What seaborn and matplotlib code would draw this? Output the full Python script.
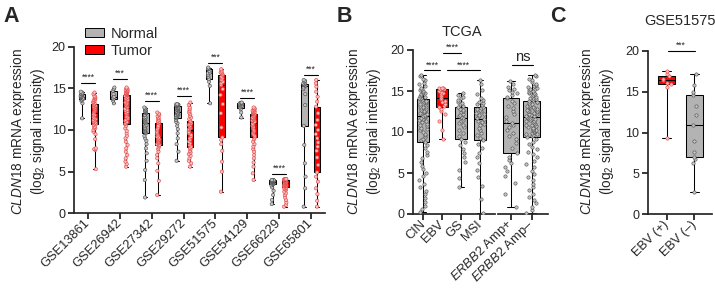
import numpy as np
import pandas as pd
import matplotlib
matplotlib.use('Agg')
import matplotlib.pyplot as plt
import seaborn as sns
from matplotlib.patches import Patch

# ---------------- data ----------------
datasets = ['GSE13861', 'GSE26942', 'GSE27342', 'GSE29272',
            'GSE51575', 'GSE54129', 'GSE66229', 'GSE65801']

gse13861_normal = [11.4, 13.2, 13.5, 13.6, 13.7, 13.8, 13.9, 13.95, 14.0, 14.05, 14.1, 14.2, 14.3, 14.35, 14.4, 14.5, 14.6]
gse13861_tumor = [5.3, 7.6, 7.7, 7.8, 8.9, 9.5, 9.8, 10.0, 10.2, 10.3, 10.4, 10.6, 10.7,
                  10.8, 10.9, 11.0, 11.1, 11.2, 11.3, 11.4, 11.5, 11.7, 11.8, 11.9, 12.1,
                  12.2, 12.3, 12.4, 12.5, 12.6, 12.7, 12.75, 12.8, 12.9, 12.95, 13.0, 13.1,
                  13.2, 13.3, 13.4, 13.5, 13.6, 13.7, 13.8, 13.9, 14.0, 14.1, 14.3, 14.5]
gse26942_normal = [13.2, 13.5, 13.7, 13.9, 14.0, 14.3, 14.7, 14.9, 15.1]
gse26942_tumor = [5.6, 5.9, 6.2, 6.6, 7.0, 7.4, 7.8, 8.2, 8.6, 9.0, 9.3, 9.6, 9.9, 10.2, 10.5, 10.7,
                  10.8, 10.95, 11.1, 11.2, 11.35, 11.5, 11.6, 11.75, 11.9, 12.0, 12.15, 12.3, 12.4, 12.55, 12.7,
                  12.8, 12.9, 13.0, 13.1, 13.2, 13.3, 13.4, 13.5, 13.6, 13.7, 13.8, 13.9, 14.0, 14.1, 14.2,
                  14.25, 14.3, 14.35, 14.4, 14.45, 14.5, 14.55, 14.6, 14.65, 14.7, 14.8, 14.85, 14.9, 15.0, 15.1]
gse27342_normal = [1.9, 4.0, 5.2, 6.3, 7.2, 7.8, 8.3, 8.7, 9.0, 9.3, 9.6,
                   9.7, 9.8, 9.9, 10.0, 10.1, 10.2, 10.3, 10.5, 10.6, 10.8,
                   10.9, 11.0, 11.1, 11.2, 11.3, 11.4, 11.5, 11.6, 11.8, 12.0,
                   12.05, 12.1, 12.15, 12.2, 12.25, 12.3, 12.4, 12.5, 12.6, 12.7]
gse27342_tumor = [2.2, 3.9, 5.1, 6.0, 6.6, 7.0, 7.4, 7.7, 7.9, 8.1, 8.2,
                  8.3, 8.4, 8.5, 8.6, 8.7, 8.8, 8.85, 8.9, 9.0, 9.1,
                  9.2, 9.35, 9.5, 9.65, 9.8, 9.95, 10.1, 10.3, 10.5, 10.8,
                  10.9, 11.0, 11.1, 11.25, 11.4, 11.5, 11.65, 11.8, 11.95, 12.1]
gse29272_normal = [6.3, 7.4, 8.3, 9.0, 9.6, 10.1, 10.5, 10.8, 11.0, 11.2, 11.4,
                   11.5, 11.55, 11.6, 11.7, 11.8, 11.85, 11.9, 12.0, 12.1, 12.2,
                   12.25, 12.3, 12.4, 12.45, 12.5, 12.6, 12.65, 12.7, 12.8, 12.9,
                   12.92, 12.94, 12.96, 12.98, 13.0, 13.02, 13.04, 13.06, 13.08, 13.1]
gse29272_tumor = [5.6, 6.0, 6.3, 6.6, 6.9, 7.1, 7.3, 7.5, 7.7, 7.85, 8.0,
                  8.2, 8.4, 8.6, 8.8, 9.0, 9.2, 9.4, 9.6, 9.8, 10.0,
                  10.1, 10.2, 10.3, 10.4, 10.5, 10.6, 10.7, 10.8, 10.95, 11.1,
                  11.3, 11.5, 11.7, 11.9, 12.1, 12.3, 12.5, 12.7, 13.0, 13.3]
gse51575_normal = [13.2, 15.3, 15.8, 16.1, 16.4, 16.6, 16.8, 16.9, 17.1, 17.3, 17.35, 17.4, 17.5]
gse51575_tumor = [2.6, 5.0, 6.2, 7.5, 8.3, 8.8, 9.1, 10.3, 12.0, 13.1, 14.2, 14.9, 15.4,
                  15.6, 15.8, 16.0, 16.2, 16.4, 16.6, 16.7, 16.8, 16.9, 17.0, 17.15, 17.3]
gse54129_normal = [11.5, 12.1, 12.5, 12.7, 12.8, 12.9, 12.95, 13.0, 13.1, 13.2, 13.22, 13.26, 13.3]
gse54129_tumor = [4.0, 4.8, 5.6, 6.1, 6.6, 7.0, 7.4, 7.7, 8.0, 8.3, 8.6, 8.9, 9.1,
                  9.3, 9.45, 9.6, 9.75, 9.9, 10.05, 10.2, 10.35, 10.5, 10.6, 10.75, 10.9,
                  11.0, 11.1, 11.15, 11.2, 11.3, 11.4, 11.45, 11.5, 11.6, 11.7, 11.8, 11.9,
                  11.95, 12.0, 12.05, 12.1, 12.15, 12.2, 12.3, 12.35, 12.4, 12.5, 12.6, 12.7]
gse66229_normal = [1.1, 1.6, 2.2, 2.7, 3.1, 3.35, 3.5, 3.55, 3.6, 3.65, 3.7, 3.72, 3.75,
                   3.78, 3.8, 3.83, 3.86, 3.9, 3.95, 3.955, 3.96, 3.97, 3.98, 3.99, 4.0]
gse66229_tumor = [0.8, 1.0, 1.3, 1.6, 1.9, 2.2, 2.4, 2.6, 2.8, 2.9, 3.0, 3.1, 3.2,
                  3.23, 3.26, 3.3, 3.33, 3.36, 3.4, 3.43, 3.46, 3.5, 3.53, 3.56, 3.6,
                  3.63, 3.66, 3.7, 3.73, 3.76, 3.8, 3.83, 3.86, 3.9, 3.93, 3.96, 4.0,
                  4.01, 4.02, 4.03, 4.04, 4.05, 4.06, 4.07, 4.08, 4.09, 4.1, 4.1, 4.1]
gse65801_normal = [0.8, 3.0, 4.4, 6.0, 8.2, 10.5, 13.0, 14.3, 14.9, 15.1, 15.3,
                   15.35, 15.4, 15.45, 15.5, 15.5, 15.6, 15.7, 15.8, 15.9, 16.0]
gse65801_tumor = [0.8, 1.5, 2.3, 3.0, 3.8, 4.4, 4.9, 5.8, 6.7, 7.5, 8.0, 8.5, 9.0,
                  9.5, 10.0, 10.6, 11.2, 12.0, 12.8, 13.4, 14.0, 14.6, 15.2, 15.6, 16.0]

normal_vals = [gse13861_normal, gse26942_normal, gse27342_normal, gse29272_normal,
               gse51575_normal, gse54129_normal, gse66229_normal, gse65801_normal]
tumor_vals = [gse13861_tumor, gse26942_tumor, gse27342_tumor, gse29272_tumor,
              gse51575_tumor, gse54129_tumor, gse66229_tumor, gse65801_tumor]
sig_a_y = [15.6, 16.1, 13.5, 14.1, 18.1, 13.9, 4.7, 16.6]
sig_a_txt = ['****', '***', '****', '****', '***', '****', '****', '***']

# TCGA
tcga_subtypes = ['CIN', 'EBV', 'GS', 'MSI']
cin = [0.2, 0.6, 1.0, 1.5, 1.9, 2.4, 2.8, 3.3, 3.7, 4.2, 4.6, 5.0, 5.5, 5.9, 6.3, 6.8, 7.2, 7.6, 8.0, 8.4, 8.8,
       9.0, 9.2, 9.4, 9.6, 9.8, 10.0, 10.2, 10.4, 10.5, 10.7, 10.9, 11.0, 11.2, 11.3, 11.5, 11.6, 11.7, 11.8, 11.9, 12.0,
       12.1, 12.2, 12.3, 12.4, 12.5, 12.6, 12.7, 12.8, 12.9, 13.0, 13.1, 13.2, 13.3, 13.4, 13.5, 13.6, 13.7, 13.8, 13.9, 14.0,
       14.1, 14.2, 14.3, 14.4, 14.5, 14.6, 14.7, 14.8, 14.9, 15.0, 15.1, 15.2, 15.4, 15.6, 15.8, 16.0, 16.3, 16.5, 16.8, 17.0]
ebv = [9.1, 10.2, 11.4, 12.2, 12.6, 12.8, 13.0, 13.2, 13.4, 13.6, 13.8, 14.0, 14.2,
       14.4, 14.6, 14.8, 14.9, 15.0, 15.2, 15.22, 15.25, 15.28, 15.32, 15.36, 15.4]
gs = [3.3, 4.4, 5.4, 6.3, 6.9, 7.4, 7.9, 8.4, 8.8, 9.2,
      9.5, 9.9, 10.3, 10.6, 10.9, 11.1, 11.3, 11.5, 11.7,
      11.85, 12.0, 12.1, 12.25, 12.4, 12.5, 12.65, 12.8, 13.0,
      13.2, 13.4, 13.5, 13.7, 13.9, 14.1, 14.3, 14.5, 14.7]
msi = [0.1, 1.8, 3.4, 4.5, 5.4, 6.2, 6.9, 7.5, 8.0, 8.5, 9.0,
       9.3, 9.6, 9.9, 10.2, 10.5, 10.8, 11.0, 11.2, 11.4, 11.6,
       11.75, 11.9, 12.05, 12.2, 12.35, 12.5, 12.65, 12.8, 12.95, 13.1,
       13.25, 13.4, 13.55, 13.7, 13.9, 14.2, 14.6, 15.1, 15.8, 16.4]
erbb2_groups = ['$\\mathit{ERBB2}$ Amp+', '$\\mathit{ERBB2}$ Amp\u2013']
amp_pos = [0.9, 2.5, 3.8, 4.6, 5.3, 5.7, 6.2, 6.6, 7.0, 7.4,
           8.0, 8.6, 9.1, 9.5, 9.9, 10.3, 10.6, 10.9, 11.1,
           11.4, 11.8, 12.2, 12.6, 12.9, 13.2, 13.5, 13.8, 14.1,
           14.3, 14.5, 14.7, 14.9, 15.1, 15.3, 15.5, 15.8, 16.2]
amp_neg = [0.1, 0.5, 0.9, 1.3, 1.7, 2.1, 2.5, 2.9, 3.3, 3.7, 4.1, 4.5, 4.9, 5.3, 5.7, 6.1, 6.5, 6.9, 7.3,
           7.6, 7.9, 8.2, 8.5, 8.8, 9.1, 9.4,
           9.5, 9.6, 9.7, 9.8, 9.9, 10.0, 10.1, 10.2, 10.3, 10.4, 10.5, 10.6, 10.7, 10.8, 10.9, 11.0,
           11.1, 11.2, 11.3, 11.4, 11.5, 11.6, 11.65, 11.7, 11.8,
           11.9, 11.95, 12.0, 12.1, 12.2, 12.25, 12.3, 12.4, 12.5, 12.55, 12.6, 12.7, 12.8, 12.85, 12.9,
           13.0, 13.1, 13.15, 13.2, 13.3, 13.4, 13.5, 13.6, 13.7, 13.8,
           13.9, 14.0, 14.1, 14.2, 14.3, 14.4, 14.5, 14.6, 14.7, 14.8, 14.9, 15.0, 15.1, 15.2, 15.3,
           15.4, 15.5, 15.6, 15.7, 15.9, 16.1, 16.3, 16.5, 16.8, 17.0]
sig_b_pairs = [(0.05, 0.9), (1.05, 2.0), (1.25, 3.0)]
sig_b_y = [17.5, 19.6, 17.5]

# GSE51575 EBV status
ebv_status = ['EBV (+)', 'EBV (\u2013)']
ebv_pos = [9.3, 15.6, 15.9, 16.1, 16.4, 16.6, 16.9, 17.2, 17.5]
ebv_neg = [2.7, 6.3, 6.8, 7.0, 7.6, 9.0, 10.9, 12.2, 13.2, 14.6, 15.0, 15.8, 17.2]

# ---------------- style ----------------
sns.set_style('ticks')
plt.rcParams['font.family'] = ['Liberation Sans', 'DejaVu Sans']
plt.rcParams['mathtext.fontset'] = 'custom'
plt.rcParams['mathtext.rm'] = 'Liberation Sans'
plt.rcParams['mathtext.it'] = 'Liberation Sans:italic'
plt.rcParams['mathtext.bf'] = 'Liberation Sans:bold'
np.random.seed(3)

GRAY_BOX = '#b3b3b3'
RED_BOX = '#ff0000'
GRAY_PT, GRAY_EDGE = '#c4c4c4', '#4a4a4a'
RED_PT, RED_EDGE = '#ffbcbc', '#e04040'
ylab = '$\\mathit{CLDN18}$ mRNA expression\n(log$_2$ signal intensity)'


def long_df(names, arrays, col):
    rows = [(n, v) for n, arr in zip(names, arrays) for v in arr]
    return pd.DataFrame(rows, columns=[col, 'value'])


def style_axis(ax, xlim):
    ax.set_ylim(0, 20)
    ax.set_xlim(*xlim)
    ax.set_xlabel('')
    ax.set_ylabel('')
    for s in ['top', 'right']:
        ax.spines[s].set_visible(False)
    for s in ['left', 'bottom']:
        ax.spines[s].set_linewidth(1.25)
    ax.tick_params(axis='both', length=4, width=1.1, labelsize=9, pad=2, color='black')
    ax.tick_params(axis='x', labelsize=9.3)
    ax.set_yticks([0, 5, 10, 15, 20])
    for lab in ax.get_xticklabels():
        lab.set_rotation(45)
        lab.set_ha('right')
        lab.set_va('center')
        lab.set_rotation_mode('anchor')


def sig(ax, x1, x2, y, text, fs=6.2):
    ax.plot([x1, x2], [y, y], color='black', lw=0.8, clip_on=False, zorder=5)
    ax.text((x1 + x2) / 2, y + 0.15, text, ha='center', va='bottom', fontsize=fs, clip_on=False)


box_kw = dict(whis=(0, 100), showfliers=False, linecolor='black', linewidth=0.75, saturation=1)
pt_kw = dict(size=2.4, linewidth=0.4, zorder=3)

fig = plt.figure(figsize=(7.15, 2.9), dpi=100)

# ---------------- panel A ----------------
axA = fig.add_axes([74 / 715, (290 - 213.3) / 290, 251 / 715, 166.6 / 290])
dfA = pd.concat([long_df(datasets, normal_vals, 'dataset').assign(group='Normal'),
                 long_df(datasets, tumor_vals, 'dataset').assign(group='Tumor')])
groups = ['Normal', 'Tumor']
sns.boxplot(data=dfA, x='dataset', y='value', hue='group', order=datasets, hue_order=groups,
            palette={'Normal': GRAY_BOX, 'Tumor': RED_BOX}, width=0.8, gap=0.46,
            legend=False, ax=axA, **box_kw)
for g, fc, ec in [('Normal', GRAY_PT, GRAY_EDGE), ('Tumor', RED_PT, RED_EDGE)]:
    sns.stripplot(data=dfA[dfA.group == g], x='dataset', y='value', hue='group', order=datasets,
                  hue_order=groups, palette={'Normal': fc, 'Tumor': fc}, dodge=True, jitter=0.08,
                  edgecolor=ec, legend=False, ax=axA, **pt_kw)
style_axis(axA, (-0.45, 7.45))
for i, (y, t) in enumerate(zip(sig_a_y, sig_a_txt)):
    sig(axA, i - 0.22, i + 0.22, y, t)

handles = [Patch(facecolor=GRAY_BOX, edgecolor='black', lw=0.7, label='Normal'),
           Patch(facecolor=RED_BOX, edgecolor='black', lw=0.7, label='Tumor')]
fig.legend(handles=handles, loc='upper left', bbox_to_anchor=(85 / 715, 1 - 27 / 290),
           frameon=False, fontsize=10.5, handlelength=1.3, handleheight=0.6,
           handletextpad=0.45, labelspacing=0.2, borderpad=0, borderaxespad=0)

# ---------------- panel B (broken x axis) ----------------
axB1 = fig.add_axes([412.7 / 715, 76 / 290, 82.3 / 715, 164 / 290])
dfB1 = long_df(tcga_subtypes, [cin, ebv, gs, msi], 'subtype')
palB = {'CIN': GRAY_BOX, 'EBV': RED_BOX, 'GS': GRAY_BOX, 'MSI': GRAY_BOX}
sns.boxplot(data=dfB1, x='subtype', y='value', hue='subtype', order=tcga_subtypes,
            hue_order=tcga_subtypes, palette=palB, width=0.65, legend=False, ax=axB1, **box_kw)
sns.stripplot(data=dfB1[dfB1.subtype != 'EBV'], x='subtype', y='value', order=tcga_subtypes,
              color=GRAY_PT, edgecolor=GRAY_EDGE, jitter=0.22, ax=axB1, **pt_kw)
sns.stripplot(data=dfB1[dfB1.subtype == 'EBV'], x='subtype', y='value', order=tcga_subtypes,
              color=RED_PT, edgecolor=RED_EDGE, jitter=0.2, ax=axB1, **pt_kw)
style_axis(axB1, (-0.56, 3.79))
for (x1, x2), y in zip(sig_b_pairs, sig_b_y):
    sig(axB1, x1, x2, y, '****')

axB2 = fig.add_axes([498 / 715, 76 / 290, 50 / 715, 164 / 290])
dfB2 = long_df(erbb2_groups, [amp_pos, amp_neg], 'erbb2')
sns.boxplot(data=dfB2, x='erbb2', y='value', order=erbb2_groups, color=GRAY_BOX,
            width=0.8, ax=axB2, **box_kw)
sns.stripplot(data=dfB2, x='erbb2', y='value', order=erbb2_groups, color=GRAY_PT,
              edgecolor=GRAY_EDGE, jitter=0.28, ax=axB2, **pt_kw)
style_axis(axB2, (-0.63, 1.79))
axB2.spines['left'].set_visible(False)
axB2.tick_params(axis='y', left=False, labelleft=False)
sig(axB2, 0.05, 1.05, 18.2, 'ns', fs=10.5)
fig.text(462 / 715, 1 - 32 / 290, 'TCGA', ha='center', va='center', fontsize=10.5)

# ---------------- panel C ----------------
axC = fig.add_axes([647.7 / 715, 75.7 / 290, 64 / 715, 163.6 / 290])
dfC = long_df(ebv_status, [ebv_pos, ebv_neg], 'status')
sns.boxplot(data=dfC, x='status', y='value', hue='status', order=ebv_status, hue_order=ebv_status,
            palette={ebv_status[0]: RED_BOX, ebv_status[1]: GRAY_BOX}, width=0.63,
            legend=False, ax=axC, **box_kw)
sns.stripplot(data=dfC[dfC.status == ebv_status[0]], x='status', y='value', order=ebv_status,
              color=RED_PT, edgecolor=RED_EDGE, jitter=0.18, ax=axC, **pt_kw)
sns.stripplot(data=dfC[dfC.status == ebv_status[1]], x='status', y='value', order=ebv_status,
              color=GRAY_PT, edgecolor=GRAY_EDGE, jitter=0.05, ax=axC, **pt_kw)
style_axis(axC, (-0.69, 1.63))
sig(axC, 0.03, 1.02, 20.0, '***')
fig.text(680 / 715, 1 - 21 / 290, 'GSE51575', ha='center', va='center', fontsize=10.5)

# ---------------- y labels and panel letters ----------------
for xc in [28, 364, 597]:
    fig.text(xc / 715, 1 - 131 / 290, ylab, rotation=90, ha='center', va='center',
             fontsize=9.8, multialignment='center', linespacing=1.1)
for lx, letter in [(3, 'A'), (337, 'B'), (550, 'C')]:
    fig.text(lx / 715, 1 - 6 / 290, letter, ha='left', va='top', fontsize=15.5, fontweight='bold')

fig.savefig('out.png', dpi=100)
